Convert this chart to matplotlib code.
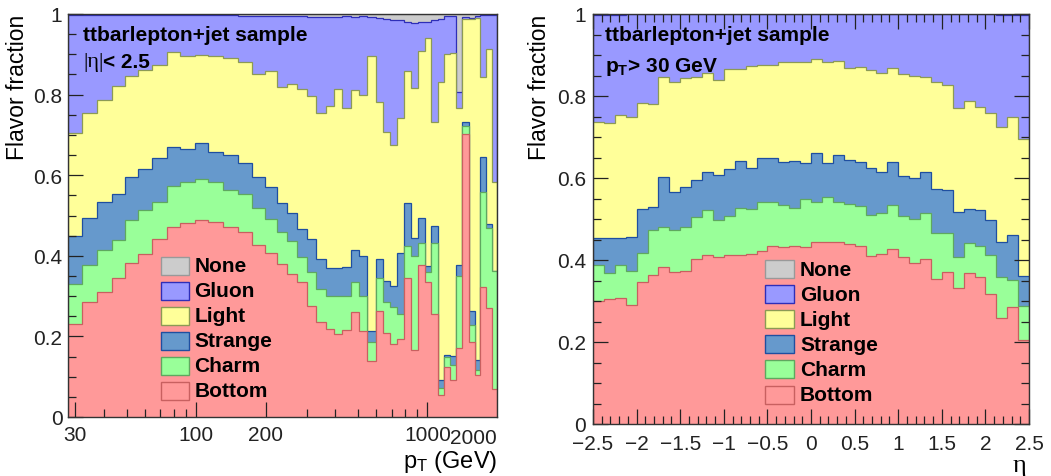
import numpy as np
import matplotlib
matplotlib.use("Agg")
import matplotlib.pyplot as plt
from matplotlib.patches import Rectangle
from matplotlib.ticker import FixedLocator, MultipleLocator, FuncFormatter, NullFormatter

plt.rcParams['font.family'] = ['Liberation Sans', 'DejaVu Sans']
plt.rcParams['mathtext.fontset'] = 'custom'
plt.rcParams['mathtext.rm'] = 'Liberation Sans'
plt.rcParams['mathtext.it'] = 'Liberation Sans:italic'
plt.rcParams['mathtext.bf'] = 'Liberation Sans:bold'

TICK_FONT = 'Liberation Sans'
GREEK_FONT = ['Liberation Serif', 'DejaVu Serif']
TICK_SIZE = 15

# ---------------------------------------------------------------- data
flavors = ["Bottom", "Charm", "Strange", "Light", "Gluon", "None"]
fill_colors = ["#FF9999", "#99FF99", "#6699CC", "#FFFF99", "#9999FF", "#CCCCCC"]
edge_colors = ["#C86060", "#5FA85F", "#1F4FA0", "#8C9A55", "#2E2EB8", "#999999"]

# jet pT bin edges (GeV)
pt_edges = [27.9, 32.1, 37.1, 43.1, 49.2, 56.2, 64.2, 74.6, 85.2, 99.0,
            113, 131, 151, 174, 198, 224, 248, 272, 300, 330,
            363, 394, 429, 466, 507, 550, 598, 643, 692, 742,
            796, 850, 910, 972, 1039, 1108, 1179, 1258, 1329, 1416,
            1514, 1603, 1695, 1794, 1895, 2000]

# cumulative flavor fraction per pT bin (stack levels, bottom upwards)
pt_upto_bottom = [0.231, 0.286, 0.309, 0.344, 0.381, 0.404, 0.442, 0.472, 0.481, 0.490,
                  0.483, 0.471, 0.458, 0.428, 0.407, 0.380, 0.355, 0.336, 0.276, 0.235,
                  0.218, 0.206, 0.217, 0.260, 0.214, 0.138, 0.264, 0.208, 0.181, 0.194,
                  0.344, 0.167, 0.377, 0.334, 0.256, 0.055, 0.125, 0.093, 0.171, 0.702,
                  0.185, 0.104, 0.322, 0.270, 0.070]
pt_upto_charm = [0.330, 0.378, 0.415, 0.440, 0.490, 0.514, 0.534, 0.574, 0.582, 0.591,
                 0.582, 0.564, 0.553, 0.518, 0.491, 0.460, 0.437, 0.396, 0.359, 0.318,
                 0.301, 0.300, 0.300, 0.336, 0.300, 0.185, 0.344, 0.285, 0.272, 0.256,
                 0.425, 0.400, 0.433, 0.359, 0.433, 0.071, 0.148, 0.129, 0.351, 0.723,
                 0.228, 0.117, 0.559, 0.470, 0.363]
pt_upto_strange = [0.448, 0.493, 0.533, 0.553, 0.595, 0.615, 0.643, 0.669, 0.665, 0.680,
                   0.658, 0.649, 0.630, 0.595, 0.570, 0.531, 0.506, 0.467, 0.442, 0.392,
                   0.369, 0.369, 0.372, 0.414, 0.400, 0.214, 0.392, 0.338, 0.324, 0.406,
                   0.531, 0.443, 0.493, 0.375, 0.475, 0.092, 0.155, 0.152, 0.377, 0.731,
                   0.264, 0.141, 0.644, 0.479, 0.363]
pt_upto_light = [0.705, 0.754, 0.787, 0.822, 0.847, 0.862, 0.873, 0.905, 0.895, 0.898,
                 0.897, 0.891, 0.882, 0.852, 0.859, 0.820, 0.826, 0.814, 0.796, 0.754,
                 0.771, 0.814, 0.766, 0.811, 0.799, 0.895, 0.782, 0.706, 0.675, 0.741,
                 0.859, 0.816, 0.909, 0.940, 0.731, 0.832, 0.901, 0.903, 0.766, 0.988,
                 0.987, 0.990, 0.843, 0.913, 0.584]
pt_upto_gluon = [0.998, 0.998, 0.998, 0.998, 0.998, 0.998, 0.998, 0.998, 0.997, 0.997,
                 0.997, 0.997, 0.996, 0.996, 0.995, 0.995, 0.994, 0.994, 0.993, 0.993,
                 0.992, 0.992, 0.994, 0.992, 0.994, 0.992, 0.990, 0.988, 0.986, 0.984,
                 0.981, 0.978, 0.979, 0.981, 0.985, 0.988, 0.995, 0.996, 0.806, 0.992,
                 0.990, 0.996, 0.998, 0.998, 0.998]

# jet eta binning
eta_range = (-2.5, 2.5)
eta_nbins = 40
eta_upto_bottom = [0.299, 0.305, 0.308, 0.290, 0.346, 0.363, 0.382, 0.370, 0.372, 0.402,
                   0.412, 0.407, 0.411, 0.412, 0.415, 0.423, 0.433, 0.431, 0.435, 0.431,
                   0.445, 0.444, 0.444, 0.439, 0.433, 0.409, 0.415, 0.427, 0.407, 0.393,
                   0.402, 0.354, 0.370, 0.331, 0.368, 0.358, 0.317, 0.258, 0.286, 0.205]
eta_upto_charm = [0.388, 0.368, 0.388, 0.374, 0.416, 0.473, 0.480, 0.472, 0.480, 0.504,
                  0.522, 0.498, 0.508, 0.528, 0.524, 0.542, 0.541, 0.534, 0.527, 0.549,
                  0.541, 0.553, 0.542, 0.537, 0.532, 0.510, 0.515, 0.533, 0.507, 0.500,
                  0.515, 0.466, 0.466, 0.407, 0.441, 0.433, 0.413, 0.358, 0.352, 0.289]
eta_upto_strange = [0.453, 0.453, 0.453, 0.455, 0.525, 0.530, 0.602, 0.565, 0.577, 0.596,
                    0.614, 0.607, 0.622, 0.642, 0.624, 0.650, 0.648, 0.638, 0.642, 0.637,
                    0.661, 0.637, 0.657, 0.644, 0.638, 0.624, 0.614, 0.640, 0.605, 0.599,
                    0.614, 0.574, 0.570, 0.518, 0.524, 0.523, 0.498, 0.445, 0.460, 0.362]
eta_upto_light = [0.737, 0.733, 0.754, 0.750, 0.783, 0.780, 0.847, 0.833, 0.843, 0.846,
                  0.855, 0.840, 0.866, 0.866, 0.874, 0.876, 0.876, 0.884, 0.883, 0.882,
                  0.890, 0.884, 0.885, 0.868, 0.871, 0.864, 0.856, 0.869, 0.853, 0.848,
                  0.846, 0.833, 0.827, 0.771, 0.789, 0.774, 0.758, 0.725, 0.748, 0.695]
eta_upto_gluon = [0.998] * 3 + [0.999] * 34 + [0.998] * 3

pt_ticks = [30, 100, 200, 1000]
pt_minor = [40, 50, 60, 70, 80, 90, 300, 400, 500, 600, 700, 800, 900]

sample_label = "ttbarlepton+jet sample"

# ---------------------------------------------------------------- drawing
fig = plt.figure(figsize=(10.51, 4.77), dpi=100)
axL = fig.add_axes([68 / 1051, 59 / 477, 429 / 1051, 403 / 477])
axR = fig.add_axes([593 / 1051, 52 / 477, 436 / 1051, 410 / 477])


def draw_stack(ax, edges, levels):
    total = np.ones(len(edges) - 1)
    all_levels = list(levels) + [total]
    # top of the stack first, lower flavours painted over it
    for lev, fc, ec in reversed(list(zip(all_levels, fill_colors, edge_colors))):
        ax.stairs(np.asarray(lev), edges, baseline=0, fill=True,
                  facecolor=fc, edgecolor=ec, lw=0.9)


def draw_legend(ax, x0, box_w, box_h, y_rows, x_text):
    for name, fc, ec, yc in zip(reversed(flavors), reversed(fill_colors),
                                reversed(edge_colors), y_rows):
        ax.add_patch(Rectangle((x0, yc - box_h / 2), box_w, box_h,
                               transform=ax.transAxes, facecolor=fc,
                               edgecolor=ec, lw=1.0, zorder=5))
        ax.text(x_text, yc, name, transform=ax.transAxes, fontsize=15,
                fontweight='bold', ha='left', va='center', zorder=5)


def style_axis(ax):
    ax.set_ylim(0, 1)
    ax.yaxis.set_major_locator(MultipleLocator(0.2))
    ax.yaxis.set_minor_locator(MultipleLocator(0.05))
    ax.yaxis.set_major_formatter(FuncFormatter(lambda v, p: f"{v:g}"))
    for s in ax.spines.values():
        s.set_color("#333333")
        s.set_linewidth(1.0)
        s.set_zorder(10)
    ax.tick_params(which='both', direction='in', colors="#222222",
                   labelsize=TICK_SIZE, labelfontfamily=TICK_FONT, width=0.9)
    ax.tick_params(which='major', length=11)
    ax.tick_params(which='minor', length=6)
    ax.set_axisbelow(False)


# ---- left: pT
draw_stack(axL, pt_edges, [pt_upto_bottom, pt_upto_charm, pt_upto_strange,
                           pt_upto_light, pt_upto_gluon])
axL.set_xscale('log')
axL.set_xlim(pt_edges[0], pt_edges[-1])
axL.xaxis.set_major_locator(FixedLocator(pt_ticks))
axL.xaxis.set_major_formatter(FuncFormatter(lambda v, p: f"{v:g}"))
axL.xaxis.set_minor_locator(FixedLocator(pt_minor))
axL.xaxis.set_minor_formatter(NullFormatter())
style_axis(axL)
axL.tick_params(axis='y', pad=4)
axL.tick_params(axis='x', pad=6)
axL.text(1.0, -0.027, f"{pt_edges[-1]:g}", transform=axL.transAxes, ha='right',
         va='top', fontsize=TICK_SIZE, family=TICK_FONT, color="#222222")
axL.text(1.0, -0.108, r"p$_\mathregular{T}$ (GeV)", transform=axL.transAxes,
         ha='right', va='center', fontsize=17, family=TICK_FONT)
axL.text(-0.118, 1.0, "Flavor fraction", transform=axL.transAxes, rotation=90,
         ha='center', va='top', fontsize=16.5)
axL.text(0.035, 0.950, sample_label, transform=axL.transAxes, fontsize=15,
         fontweight='bold', ha='left', va='center', zorder=6)
eta_txt = axL.text(0.035, 0.883, "|η|", transform=axL.transAxes, fontsize=16,
                   family=GREEK_FONT, ha='left', va='center', zorder=6)
fig.canvas.draw()
bb = eta_txt.get_window_extent()
x_after = axL.transAxes.inverted().transform((bb.x1, bb.y0))[0]
axL.text(x_after, 0.883, "< 2.5", transform=axL.transAxes, fontsize=15,
         fontweight='bold', ha='left', va='center', zorder=6)
draw_legend(axL, 0.217, 0.064, 18 / 403,
            [0.375, 0.313, 0.251, 0.189, 0.127, 0.065], 0.294)

# ---- right: eta
eta_edges = np.linspace(eta_range[0], eta_range[1], eta_nbins + 1)
draw_stack(axR, eta_edges, [eta_upto_bottom, eta_upto_charm, eta_upto_strange,
                            eta_upto_light, eta_upto_gluon])
axR.set_xlim(*eta_range)
axR.xaxis.set_major_locator(MultipleLocator(0.5))
axR.xaxis.set_minor_locator(MultipleLocator(0.1))
axR.xaxis.set_major_formatter(FuncFormatter(lambda v, p: f"{v:g}".replace("-", "\u2212")))
style_axis(axR)
axR.tick_params(which='both', top=True, right=True)
axR.tick_params(axis='y', pad=5)
axR.tick_params(axis='x', pad=7)
axR.text(0.979, -0.100, "η", transform=axR.transAxes, ha='center', va='center',
         fontsize=19, family=GREEK_FONT)
axR.text(-0.123, 1.0, "Flavor fraction", transform=axR.transAxes, rotation=90,
         ha='center', va='top', fontsize=16.5)
axR.text(0.028, 0.951, sample_label, transform=axR.transAxes, fontsize=15,
         fontweight='bold', ha='left', va='center', zorder=6)
axR.text(0.028, 0.872, r"p$_\mathbf{T}$> 30 GeV", transform=axR.transAxes,
         fontsize=15, fontweight='bold', ha='left', va='center', zorder=6)
draw_legend(axR, 0.394, 0.067, 18 / 410,
            [0.378, 0.317, 0.256, 0.195, 0.134, 0.071], 0.475)

fig.savefig("out.png", dpi=100)
